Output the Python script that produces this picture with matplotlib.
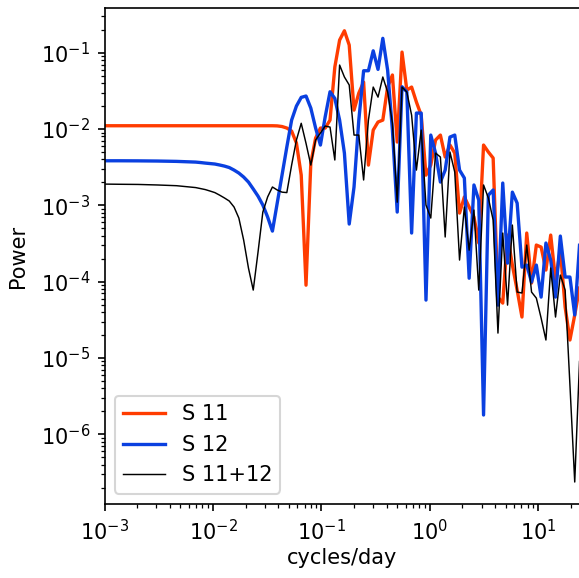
import matplotlib
matplotlib.use("Agg")
import matplotlib.pyplot as plt

# frequency grid (cycles/day)
freq = [0.001, 0.00136, 0.00204, 0.00307, 0.00461,
        0.00693, 0.00767, 0.00850, 0.00941, 0.01041, 0.01153, 0.01277, 0.01414,
        0.01565, 0.01733, 0.01919, 0.02125, 0.02352, 0.02604, 0.02884, 0.03193,
        0.03535, 0.03914, 0.04334, 0.04799, 0.05314, 0.05884, 0.06516, 0.07214,
        0.07988, 0.08845, 0.09795, 0.1084, 0.1201, 0.1330, 0.1472, 0.1630,
        0.1805, 0.1999, 0.2213, 0.2451, 0.2714, 0.3005, 0.3327, 0.3684,
        0.4080, 0.4517, 0.5002, 0.5539, 0.6133, 0.6791, 0.7518, 0.8323,
        0.9213, 1.020, 1.129, 1.251, 1.385, 1.533, 1.697, 1.879,
        2.081, 2.304, 2.551, 2.825, 3.128, 3.464, 3.835, 4.247,
        4.702, 5.207, 5.766, 6.383, 7.069, 7.826, 8.666, 9.594,
        10.62, 11.76, 13.02, 14.42, 15.97, 17.68, 19.58, 21.68, 24.0]

s11 = [0.01105, 0.01105, 0.01105, 0.01105, 0.01105,
       0.01105, 0.01105, 0.01105, 0.01105, 0.01105, 0.01105, 0.01105, 0.01105,
       0.01105, 0.01105, 0.01105, 0.01105, 0.01105, 0.01105, 0.01105, 0.01105,
       0.01105, 0.0110, 0.01079, 0.01031, 0.00941, 0.00656, 0.00249, 9.0e-5,
       0.00358, 0.00762, 0.0103, 0.0103, 0.0131, 0.0650, 0.1466, 0.194,
       0.126, 0.0177, 0.0296, 0.0413, 0.00337, 0.0097, 0.01236, 0.0131,
       0.0355, 0.0511, 0.00676, 0.102, 0.0324, 0.0355, 0.0226, 0.0152,
       0.00249, 0.00337, 0.00718, 0.00834, 0.00430, 0.00617, 0.00484, 7.92e-4,
       1.29e-3, 9.51e-4, 7.03e-4, 3.21e-4, 0.00617, 0.00500, 0.00417, 6.28e-5,
       5.24e-5, 4.08e-4, 1.65e-4, 7.76e-5, 3.44e-5, 4.34e-4, 9.6e-5, 3.02e-4,
       2.84e-4, 1.42e-4, 4.08e-4, 1.05e-4, 2.59e-4, 4.65e-5, 1.72e-5, 3.66e-5, 8.24e-5]

s12 = [0.00384, 0.00384, 0.00383, 0.00381, 0.00377,
       0.00369, 0.00364, 0.00358, 0.00353, 0.00348, 0.00338, 0.00327, 0.00313,
       0.00290, 0.00265, 0.00235, 0.00202, 0.00164, 0.00132, 0.00101, 7.03e-4,
       4.60e-4, 1.07e-3, 2.49e-3, 5.81e-3, 0.0131, 0.0200, 0.0260, 0.0271,
       0.0188, 0.0103, 0.00617, 0.0145, 0.0308, 0.0252, 0.0131, 0.00484,
       5.69e-4, 1.74e-3, 0.0131, 0.0581, 0.0581, 0.106, 0.0605, 0.1545,
       0.0593, 0.0097, 8.17e-4, 0.0358, 0.0308, 4.34e-4, 0.0162, 0.0162,
       5.74e-5, 0.00834, 0.00484, 0.00202, 0.00290, 0.00785, 0.00834, 0.00290,
       0.00228, 1.11e-4, 1.85e-3, 1.17e-3, 1.79e-6, 1.36e-3, 1.59e-3, 4.93e-5,
       1.96e-3, 1.75e-4, 1.49e-3, 1.07e-3, 1.55e-4, 1.65e-4, 9.9e-5, 1.65e-4,
       6.28e-5, 3.21e-4, 1.92e-4, 6.28e-5, 3.96e-4, 1.15e-4, 1.15e-4, 3.66e-5, 3.0e-4]

s11_12 = [0.00190, 0.00189, 0.00188, 0.00185, 0.00181,
          0.00171, 0.00166, 0.00161, 0.00154, 0.00147, 0.00136, 0.00125, 0.00114,
          9.51e-4, 6.82e-4, 3.51e-4, 1.51e-4, 7.76e-5, 2.44e-4, 8.17e-4, 1.29e-3,
          1.74e-3, 1.59e-3, 1.49e-3, 1.47e-3, 3.37e-3, 7.18e-3, 0.0119, 0.00650,
          3.37e-3, 7.18e-3, 0.00887, 0.01094, 0.01061, 0.00393, 0.0690, 0.0481,
          0.0378, 0.00834, 0.00834, 0.00215, 0.0131, 0.0355, 0.0262, 0.0481,
          0.0306, 0.0120, 0.00110, 0.0355, 0.0306, 0.0152, 0.00290, 0.0097,
          0.00101, 6.82e-4, 0.00484, 0.00430, 3.85e-4, 0.00500, 0.00273, 1.92e-4,
          9.51e-4, 2.59e-4, 8.68e-4, 7.76e-5, 1.85e-3, 1.25e-3, 6.42e-4, 2.12e-5,
          4.34e-4, 4.93e-5, 5.52e-4, 7.31e-5, 7.10e-5, 3.02e-4, 7.31e-5, 6.09e-5,
          3.33e-5, 1.72e-5, 1.51e-4, 3.44e-5, 1.22e-4, 7.76e-5, 4.42e-6, 2.37e-7, 9.0e-6]

labels = ["S 11", "S 12", "S 11+12"]

fig = plt.figure(figsize=(579 / 150, 578 / 150), dpi=150)
ax = fig.add_axes([0.1805, 0.128, 0.8204, 0.8576])

ax.plot(freq, s11, color="#ff3c00", lw=1.6, label=labels[0])
ax.plot(freq, s12, color="#0a40e0", lw=1.6, label=labels[1])
ax.plot(freq, s11_12, color="black", lw=0.7, label=labels[2])

ax.set_xscale("log")
ax.set_yscale("log")
ax.set_xlim(1e-3, 24)
ax.set_ylim(1.22e-7, 0.382)
ax.set_xlabel("cycles/day", labelpad=2)
ax.set_ylabel("Power", labelpad=6)
ax.legend(loc="lower left")

fig.savefig("out.png", dpi=150)
